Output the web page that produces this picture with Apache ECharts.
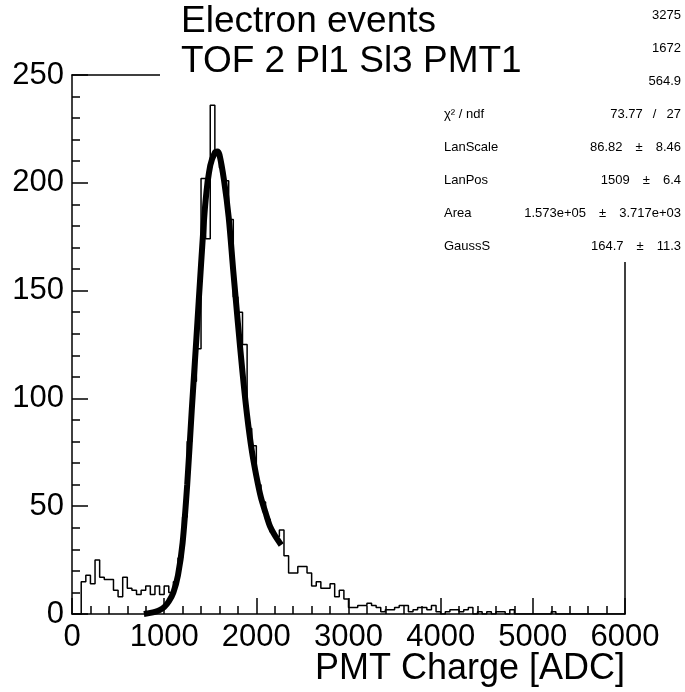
<!DOCTYPE html>
<html>
<head>
<meta charset="utf-8">
<script src="https://cdn.jsdelivr.net/npm/echarts/dist/echarts.min.js"></script>
<style>
  html, body { margin: 0; padding: 0; background: #fff; }
  #chart { width: 685px; height: 692px; }
</style>
</head>
<body>
<div id="chart"></div>
<script>
  // histogram: 120 bins of 50 ADC from 0 to 6000
  var binWidth = 50;
  var counts = [
    0, 0, 15, 18, 14, 25, 17, 16, 16, 11,
    8, 17, 12, 11, 9, 11, 13, 9, 13, 9,
    13, 10, 15, 26, 45, 80, 108, 123, 202, 174,
    236, 215, 207, 201, 183, 147, 140, 125, 86, 78,
    60, 52, 44, 38, 36, 39, 27, 19, 19, 22,
    22, 19, 13, 15, 12, 12, 14, 8, 11, 7,
    3, 3, 4, 4, 5, 4, 3, 1, 2, 2,
    3, 4, 4, 1, 2, 3, 3, 2, 4, 1,
    0, 1, 2, 2, 1, 2, 3, 0, 1, 0,
    1, 0, 1, 1, 0, 2, 0, 0, 0, 0,
    0, 0, 0, 0, 1, 0, 0, 0, 0, 0,
    0, 0, 0, 0, 0, 0, 0, 0, 0, 0
  ];
  // fit curve
  var fitX = [780, 850, 900, 950, 1000, 1050, 1100, 1150, 1200, 1250, 1300, 1350, 1400, 1450, 1500, 1550, 1577, 1600, 1650, 1700, 1750, 1800, 1850, 1900, 1950, 2000, 2050, 2100, 2150, 2200, 2270];
  var fitY = [0, 0.5, 1, 1.8, 3.2, 5.8, 10, 18, 33, 60, 95, 128, 162, 192, 208, 214, 214.5, 213, 201, 184, 159, 135, 112, 92, 76, 64, 54, 47, 40.5, 36.5, 32];

  var xTicks = [0, 6000, 1000];
  var yTicks = [0, 250, 50];

  var titleLines = ['Electron events', 'TOF 2 Pl1 Sl3 PMT1'];
  var statLabels = ['', '', '', 'χ² / ndf', 'LanScale', 'LanPos', 'Area', 'GaussS'];
  var PM = '\u2003±\u2003';
  var statValues = ['3275', '1672', '564.9', '73.77 \u2002/\u2002 27', '86.82' + PM + '8.46', '1509' + PM + '6.4', '1.573e+05' + PM + '3.717e+03', '164.7' + PM + '11.3'];
  var xTitle = 'PMT Charge [ADC]';

  var FONT = '"Liberation Sans", Arial, Helvetica, sans-serif';

  var histData = counts.map(function (c, i) { return [i * binWidth, c]; });
  histData.push([counts.length * binWidth, counts[counts.length - 1]]);
  var fitData = fitX.map(function (x, i) { return [x, fitY[i]]; });

  // stats pave, then title pave drawn over it (hides Entries/Mean/RMS labels)
  var graphics = [
    { type: 'rect', shape: { x: 425, y: 0, width: 260, height: 262 }, style: { fill: '#fff' }, z: 5 },
    { type: 'rect', shape: { x: 160, y: 0, width: 480, height: 95 }, style: { fill: '#fff' }, z: 6 }
  ];
  titleLines.forEach(function (t, i) {
    graphics.push({ type: 'text', x: 181, y: 22 + i * 40, z: 10,
      style: { text: t, font: '37px ' + FONT, fill: '#000', textVerticalAlign: 'middle' } });
  });
  statValues.forEach(function (v, i) {
    var y = 15 + i * 33;
    if (statLabels[i]) {
      graphics.push({ type: 'text', x: 444, y: y, z: 10,
        style: { text: statLabels[i], font: '13px ' + FONT, fill: '#000', textVerticalAlign: 'middle' } });
    }
    graphics.push({ type: 'text', x: 681, y: y, z: 10,
      style: { text: v, font: '13px ' + FONT, fill: '#000', textAlign: 'right', textVerticalAlign: 'middle' } });
  });
  graphics.push({ type: 'text', x: 625, y: 669, z: 10,
    style: { text: xTitle, font: '36px ' + FONT, fill: '#000', textAlign: 'right', textVerticalAlign: 'middle' } });

  var axisLine = { show: true, onZero: false, lineStyle: { color: '#000', width: 1.5 } };
  var chart = echarts.init(document.getElementById('chart'), null, { renderer: 'canvas' });
  chart.setOption({
    animation: false,
    backgroundColor: '#fff',
    grid: { left: 72, right: 60, top: 75, bottom: 78 },
    xAxis: [{
      type: 'value', min: xTicks[0], max: xTicks[1], interval: xTicks[2], position: 'bottom',
      axisLine: axisLine,
      axisTick: { show: true, inside: true, length: 16, lineStyle: { color: '#000', width: 1.5 } },
      minorTick: { show: true, splitNumber: 5, length: 8, lineStyle: { color: '#000', width: 1.5 } },
      axisLabel: { color: '#000', fontSize: 31, fontFamily: FONT, margin: 8,
        formatter: function (v) { return String(v); } },
      splitLine: { show: false }
    }, {
      type: 'value', min: xTicks[0], max: xTicks[1], position: 'top',
      axisLine: axisLine, axisTick: { show: false }, axisLabel: { show: false }, splitLine: { show: false }
    }],
    yAxis: [{
      type: 'value', min: yTicks[0], max: yTicks[1], interval: yTicks[2], position: 'left',
      axisLine: axisLine,
      axisTick: { show: true, inside: true, length: 16, lineStyle: { color: '#000', width: 1.5 } },
      minorTick: { show: true, splitNumber: 5, length: 8, lineStyle: { color: '#000', width: 1.5 } },
      axisLabel: { color: '#000', fontSize: 31, fontFamily: FONT, margin: 8 },
      splitLine: { show: false }
    }, {
      type: 'value', min: yTicks[0], max: yTicks[1], position: 'right',
      axisLine: axisLine, axisTick: { show: false }, axisLabel: { show: false }, splitLine: { show: false }
    }],
    series: [{
      type: 'line', step: 'end', data: histData, symbol: 'none',
      lineStyle: { color: '#000', width: 1.5 }, z: 2
    }, {
      type: 'line', data: fitData, symbol: 'none', smooth: 0.3,
      lineStyle: { color: '#000', width: 6 }, z: 3
    }],
    graphic: graphics
  });
</script>
</body>
</html>
